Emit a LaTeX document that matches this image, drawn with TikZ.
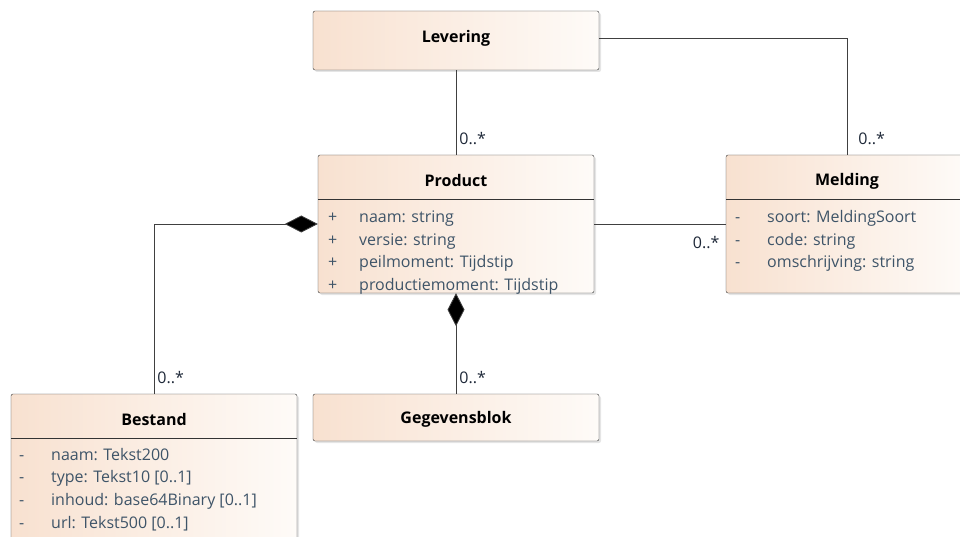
\documentclass[tikz,border=0pt]{standalone}
\usepackage{fontspec}
\setmainfont{Open Sans}
\usetikzlibrary{positioning,shadows,arrows.meta}
\definecolor{peach}{HTML}{F8E1D0}
\definecolor{cream}{HTML}{FEFBF8}
\definecolor{attrtext}{HTML}{3E5468}
\definecolor{multtext}{HTML}{1E2838}

\begin{document}
\begin{tikzpicture}
		[   x=1pt,y=-1pt,
			cls/.style={draw=black!80,rounded corners=2pt,left color=peach,right color=cream,
				drop shadow={shadow xshift=2pt,shadow yshift=-2pt,fill=black!20},inner sep=0pt},
			title/.style={font=\fontsize{16}{18}\selectfont\bfseries},
			attr/.style={font=\fontsize{16}{18}\selectfont,text=attrtext,anchor=west,inner sep=0pt,
				text height=11pt,text depth=3pt},
			mult/.style={font=\fontsize{16}{18}\selectfont,text=multtext,inner sep=2pt},
		]
		\tikzset{assoc/.style={draw=black!75,line width=0.8pt}}
		\tikzset{comp/.style={assoc,-{Diamond[length=33pt,width=17pt,fill=black]}}}
		\clip (0,0) rectangle (960,537);
		
		\node[cls,minimum width=286pt,minimum height=59pt] (lev) at (456,40.5) {};
		\node[cls,minimum width=276pt,minimum height=138pt] (prod) at (456,224) {};
		\node[cls,minimum width=242pt,minimum height=138pt] (mel) at (847,224) {};
		\node[cls,minimum width=286pt,minimum height=176pt] (best) at (154,482) {};
		\node[cls,minimum width=286pt,minimum height=47pt] (geg) at (456,417.5) {};
		
		\node[title] (lev-t) at (456,38) {Levering};
		\node[title] (prod-t) at (456,181) {Product};
		\node[title] (mel-t) at (847,181) {Melding};
		\node[title] (best-t) at (154,419) {Bestand};
		\node[title] (geg-t) at (456,419) {Gegevensblok};
		
		\draw[draw=black!80] ([yshift=-44pt]prod.north west) -- ([yshift=-44pt]prod.north east);
		\draw[draw=black!80] ([yshift=-44pt]mel.north west) -- ([yshift=-44pt]mel.north east);
		\draw[draw=black!80] ([yshift=-44pt]best.north west) -- ([yshift=-44pt]best.north east);
		
		\foreach \s/\t [count=\i] in {+/{naam: string},+/{versie: string},+/{peilmoment: Tijdstip},+/{productiemoment: Tijdstip}}
		{
			\node[attr] (prod-s\i) at (328,{219+22.4*(\i-1)}) {\s};
			\node[attr] (prod-a\i) at (359,{219+22.4*(\i-1)}) {\t};
		}
		
		\foreach \s/\t [count=\i] in {-/{soort: MeldingSoort},-/{code: string},-/{omschrijving: string}}
		{
			\node[attr] (mel-s\i) at (735,{219+22.4*(\i-1)}) {\s};
			\node[attr] (mel-a\i) at (767,{219+22.4*(\i-1)}) {\t};
		}
		
		\foreach \s/\t [count=\i] in {-/{naam: Tekst200},-/{type: Tekst10 [0..1]},-/{inhoud: base64Binary [0..1]},-/{url: Tekst500 [0..1]}}
		{
			\node[attr] (best-s\i) at (19,{456+22.9*(\i-1)}) {\s};
			\node[attr] (best-a\i) at (51,{456+22.9*(\i-1)}) {\t};
		}
		
		\path[assoc] (lev.south) -- node[mult,pos=1,anchor=south west,xshift=1pt,yshift=8pt] {0..*} (prod.north);
		\path[assoc] (lev.east |- lev-t) -| node[mult,pos=1,anchor=south west,xshift=9pt,yshift=8pt] {0..*} (mel.north);
		\path[assoc] (prod.east) -- node[mult,pos=1,anchor=north east,xshift=-4pt,yshift=-10pt] {0..*} (mel.west);
		\path[comp] (best.north) |- node[mult,pos=0,anchor=south west,xshift=1pt,yshift=8pt] {0..*} (prod.west);
		\path[comp] (geg.north) -- node[mult,pos=0,anchor=south west,xshift=1pt,yshift=8pt] {0..*} (prod.south);
\end{tikzpicture}
\end{document}
